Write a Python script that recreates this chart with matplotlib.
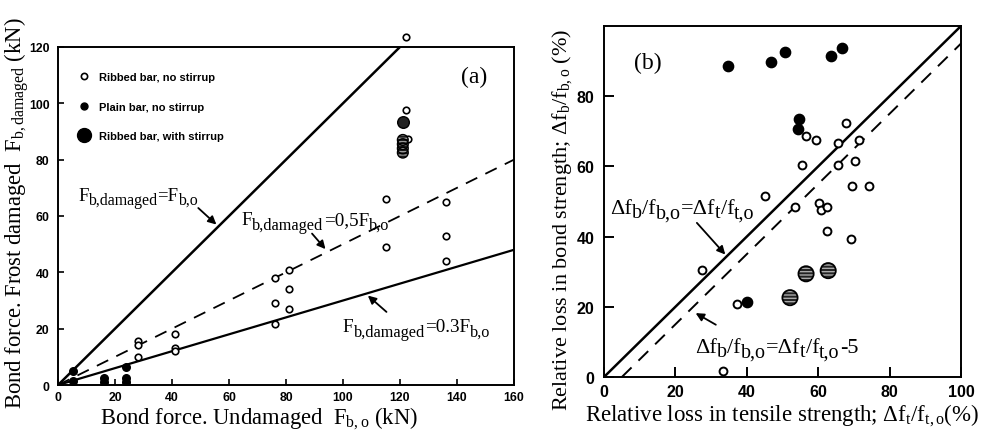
import matplotlib
matplotlib.use("Agg")
import matplotlib.pyplot as plt
import matplotlib.transforms as mtransforms
from matplotlib.lines import Line2D
import numpy as np

plt.rcParams['font.family'] = ['Liberation Serif', 'DejaVu Serif']
plt.rcParams['mathtext.fontset'] = 'custom'
plt.rcParams['mathtext.rm'] = 'Liberation Serif'
plt.rcParams['mathtext.it'] = 'Liberation Serif:italic'
plt.rcParams['hatch.linewidth'] = 1.0

# ---------------- Panel (a) data ----------------
a_ribbed_x = [122, 122, 122.8, 115, 115, 136, 136, 136, 76, 76, 76, 81, 81, 81, 41, 41, 41, 28, 28, 28]
a_ribbed_y = [123.5, 97.5, 87.5, 66, 49, 65, 53, 44, 38, 29, 21.5, 41, 34, 27, 18, 13, 12, 15.8, 14.2, 10]
a_plain_x = [5.3, 5.3, 16, 16, 24, 24, 24]
a_plain_y = [5, 1.5, 2.5, 1.2, 6.3, 2.5, 1.2]
a_stirrup_dark_x = [121]
a_stirrup_dark_y = [93.3]
a_stirrup_x = [121, 121, 121, 121]
a_stirrup_y = [87, 85.5, 84, 82.5]
a_ratios = [1.0, 0.5, 0.3]
a_xticks = [0, 20, 40, 60, 80, 100, 120, 140, 160]
a_yticks = [0, 20, 40, 60, 80, 100, 120]

# ---------------- Panel (b) data ----------------
b_plain_x = [34.8, 46.7, 50.7, 63.6, 66.6, 54.6, 54.4, 40.1]
b_plain_y = [88.6, 89.8, 92.6, 91.5, 93.6, 73.6, 70.6, 21.5]
b_ribbed_x = [56.6, 59.4, 67.7, 65.6, 71.4, 55.6, 65.5, 70.3, 69.6, 74.3, 45.2, 53.4,
              60.3, 60.7, 62.4, 62.4, 69.3, 27.4, 37.2, 33.2]
b_ribbed_y = [68.7, 67.6, 72.5, 66.6, 67.5, 60.5, 60.5, 61.4, 54.3, 54.3, 51.5, 48.3,
              49.6, 47.7, 48.3, 41.5, 39.3, 30.5, 20.7, 1.6]
b_stirrup_x = [56.6, 62.8, 52.1]
b_stirrup_y = [29.4, 30.3, 22.6]
b_offsets = [0, 5]
b_xticks = [0, 20, 40, 60, 80, 100]
b_yticks = [0, 20, 40, 60, 80]

fig = plt.figure(figsize=(9.97, 4.35), dpi=100)
axA = fig.add_axes([0.0582, 0.1126, 0.4573, 0.7771])
axB = fig.add_axes([0.6058, 0.131, 0.3581, 0.807])
renderer = fig.canvas.get_renderer()


def rich(ax, x, y, pieces, size, sub_scale=0.85, sub_drop=0.22):
    """Draw text pieces in sequence; pieces marked 's' are lowered, slightly smaller subscripts."""
    dx = 0.0
    for txt, kind in pieces:
        fs = size * sub_scale if kind == 's' else size
        dy = -size * sub_drop if kind == 's' else 0.0
        tr = mtransforms.offset_copy(ax.transData, fig=fig, x=dx, y=dy, units='points')
        t = ax.text(x, y, txt, fontsize=fs, ha='left', va='baseline', transform=tr)
        w = t.get_window_extent(renderer=renderer).width * 72.0 / fig.dpi
        dx += w


for ax in (axA, axB):
    for s in ax.spines.values():
        s.set_linewidth(1.4)

arrow_kw = dict(arrowstyle='-|>', color='black', lw=1.3, mutation_scale=12)

# ---------- Panel (a) ----------
ax = axA
ax.set_xlim(0, 160)
ax.set_ylim(0, 120)
xl = np.array([0, 160])
ax.plot(xl, a_ratios[0] * xl, color='black', lw=1.8, solid_capstyle='butt')
ax.plot(xl, a_ratios[1] * xl, color='black', lw=1.3, linestyle=(0, (7, 5)))
ax.plot(xl, a_ratios[2] * xl, color='black', lw=1.6)
ax.scatter(a_ribbed_x, a_ribbed_y, s=22, facecolor='white', edgecolor='black', linewidth=1.2, zorder=3, clip_on=False)
ax.scatter(a_plain_x, a_plain_y, s=30, facecolor='black', edgecolor='black', zorder=3)
ax.scatter(a_stirrup_x, a_stirrup_y, s=60, facecolor='#1a1a1a', edgecolor='#999999', hatch='-----', linewidth=0, zorder=3)
ax.scatter(a_stirrup_x, a_stirrup_y, s=60, facecolor='none', edgecolor='black', linewidth=1.0, zorder=3)
ax.scatter(a_stirrup_dark_x, a_stirrup_dark_y, s=70, facecolor='#222222', edgecolor='black', zorder=4)

ax.set_xticks(a_xticks)
ax.set_yticks(a_yticks)
ax.tick_params(direction='in', length=4, width=1.2, labelsize=8.8, pad=6, top=False, right=False)
ax.tick_params(axis='x', pad=4)
for lab in ax.get_xticklabels() + ax.get_yticklabels():
    lab.set_fontfamily('Liberation Sans')
    lab.set_fontweight('bold')

ax.set_xlabel(r'Bond force. Undamaged  F$_{\rm b,o}$ (kN)', fontsize=16.3)
ax.set_ylabel(r'Bond force. Frost damaged  F$_{\rm b,damaged}$ (kN)', fontsize=16.3)
ax.xaxis.set_label_coords(0.44, -0.058)
ax.yaxis.set_label_coords(-0.06, 0.51)

handles = [
    Line2D([], [], linestyle='none', marker='o', markersize=4.5, markerfacecolor='white', markeredgecolor='black', markeredgewidth=1.2),
    Line2D([], [], linestyle='none', marker='o', markersize=5, markerfacecolor='black', markeredgecolor='black'),
    Line2D([], [], linestyle='none', marker='o', markersize=10, markerfacecolor='black', markeredgecolor='black'),
]
labels = ['Ribbed bar, no stirrup', 'Plain bar, no stirrup', 'Ribbed bar, with stirrup']
ax.legend(handles, labels, loc='upper left', bbox_to_anchor=(0.02, 0.955), frameon=False,
          prop={'family': 'Liberation Sans', 'weight': 'bold', 'size': 8},
          labelspacing=1.75, handletextpad=0.8, handlelength=1.2)

ax.text(141.5, 109.5, '(a)', fontsize=17, ha='left', va='center')
rich(ax, 7, 65.8, [('F', 'n'), ('b,damaged', 's'), ('=F', 'n'), ('b,o', 's')], 13.5)
ax.annotate('', xy=(56.3, 56.3), xytext=(48.5, 63.5), arrowprops=arrow_kw)
rich(ax, 64.5, 57.0, [('F', 'n'), ('b,damaged', 's'), ('=0,5F', 'n'), ('b,o', 's')], 13.8)
ax.annotate('', xy=(94.5, 47.5), xytext=(88.5, 54.5), arrowprops=arrow_kw)
rich(ax, 100, 19.0, [('F', 'n'), ('b,damaged', 's'), ('=0.3F', 'n'), ('b,o', 's')], 13.8)
ax.annotate('', xy=(108, 32.4), xytext=(116, 25.3), arrowprops=arrow_kw)

# ---------- Panel (b) ----------
ax = axB
ax.set_xlim(0, 100)
ax.set_ylim(0, 100)
xl = np.array([0, 100])
ax.plot(xl, xl - b_offsets[0], color='black', lw=1.8)
xd = np.array([b_offsets[1], 100])
ax.plot(xd, xd - b_offsets[1], color='black', lw=1.4, linestyle=(0, (7, 5)))
ax.scatter(b_ribbed_x, b_ribbed_y, s=32, facecolor='white', edgecolor='black', linewidth=1.4, zorder=3)
ax.scatter(b_plain_x, b_plain_y, s=55, facecolor='black', edgecolor='black', zorder=3)
ax.scatter(b_stirrup_x, b_stirrup_y, s=120, facecolor='#222222', edgecolor='#aaaaaa', hatch='-----', linewidth=0, zorder=3)
ax.scatter(b_stirrup_x, b_stirrup_y, s=120, facecolor='none', edgecolor='black', linewidth=1.3, zorder=3)

ax.set_xticks(b_xticks)
ax.set_yticks(b_yticks)
ax.tick_params(direction='in', length=7, width=1.4, labelsize=11.5, pad=7, top=False, right=False)
ax.tick_params(axis='x', pad=5)
for lab in ax.get_xticklabels() + ax.get_yticklabels():
    lab.set_fontfamily('Liberation Sans')
    lab.set_fontweight('bold')

ax.set_xlabel('Relative loss in tensile strength; Δf$_{\\rm t}$/f$_{\\rm t,o}$(%)', fontsize=16.5)
ax.set_ylabel('Relative loss in bond strength; Δf$_{\\rm b}$/f$_{\\rm b,o}$ (%)', fontsize=16)
ax.xaxis.set_label_coords(0.5, -0.07)
ax.yaxis.set_label_coords(-0.085, 0.45)

ax.text(8.5, 89.5, '(b)', fontsize=17, ha='left', va='center')
rich(ax, 1.7, 46.8, [('Δf', 'n'), ('b', 's'), ('/f', 'n'), ('b,o', 's'), ('=Δf', 'n'), ('t', 's'), ('/f', 'n'), ('t,o', 's')],
     16, sub_scale=0.9, sub_drop=0.2)
ax.annotate('', xy=(34.5, 34.3), xytext=(25.5, 44.5), arrowprops=arrow_kw)
rich(ax, 25.5, 7.2, [('Δf', 'n'), ('b', 's'), ('/f', 'n'), ('b,o', 's'), ('=Δf', 'n'), ('t', 's'), ('/f', 'n'), ('t,o', 's'), ('-5', 'n')],
     16, sub_scale=0.9, sub_drop=0.2)
ax.annotate('', xy=(25, 18.6), xytext=(32, 14.5), arrowprops=arrow_kw)

fig.savefig('out.png', dpi=100)
